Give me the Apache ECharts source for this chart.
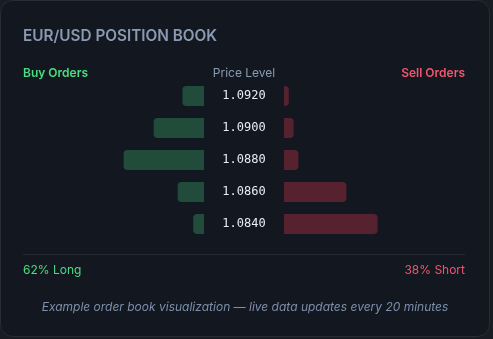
<!DOCTYPE html>
<html>
<head>
<meta charset="utf-8">
<script src="https://cdn.jsdelivr.net/npm/echarts@6/dist/echarts.min.js"></script>
<style>
  html, body { margin: 0; padding: 0; background: #191c23; }
  #chart { width: 493px; height: 339px; }
</style>
</head>
<body>
<div id="chart"></div>
<script>
// price levels, top to bottom
const priceLevels = ['1.0920', '1.0900', '1.0880', '1.0860', '1.0840']
// buy / sell order share at each level (%)
const buyOrders = [18, 42, 67, 22, 9]
const sellOrders = [4, 8, 12, 52, 78]
const longPct = 62
const shortPct = 38

const FONT = 'Inter, "Noto Sans", sans-serif'
const GREEN = '#4ade80'
const RED = '#f0566f'

const myChart = echarts.init(document.getElementById('chart'))

const option = {
    backgroundColor: 'transparent',
    animation: false,
    graphic: [
        // card
        {
            type: 'rect',
            shape: { x: 0.5, y: 0.5, width: 489, height: 336, r: 12 },
            style: { fill: '#131720', stroke: '#272c37', lineWidth: 1 },
            z: -10,
        },
        {
            type: 'text',
            left: 23, top: 29,
            style: { text: 'EUR/USD POSITION BOOK', fill: '#8a9ab2', font: '600 15.3px ' + FONT },
        },
        {
            type: 'text',
            left: 23, top: 67,
            style: { text: 'Buy Orders', fill: GREEN, font: '600 12px ' + FONT },
        },
        {
            type: 'text',
            x: 244, y: 67,
            style: { text: 'Price Level', fill: '#8a9ab2', font: '12px ' + FONT, align: 'center' },
        },
        {
            type: 'text',
            x: 465, y: 67,
            style: { text: 'Sell Orders', fill: RED, font: '600 12px ' + FONT, align: 'right' },
        },
        // separator
        {
            type: 'line',
            shape: { x1: 23, y1: 254.5, x2: 465, y2: 254.5 },
            style: { stroke: '#252a35', lineWidth: 1 },
        },
        {
            type: 'text',
            left: 23, top: 264,
            style: { text: longPct + '% Long', fill: GREEN, font: '12px ' + FONT },
        },
        {
            type: 'text',
            x: 465, y: 264,
            style: { text: shortPct + '% Short', fill: RED, font: '12px ' + FONT, align: 'right' },
        },
        {
            type: 'text',
            x: 245, y: 301,
            style: {
                text: 'Example order book visualization — live data updates every 20 minutes',
                fill: '#7d8fab', font: 'italic 12px ' + FONT, align: 'center',
            },
        },
    ],
    grid: [
        { left: 84, top: 80, width: 120, height: 160 },
        { left: 284, top: 80, width: 120, height: 160 },
    ],
    xAxis: [
        { type: 'value', gridIndex: 0, min: 0, max: 100, inverse: true, show: false },
        { type: 'value', gridIndex: 1, min: 0, max: 100, show: false },
    ],
    yAxis: [
        {
            type: 'category', gridIndex: 0, data: priceLevels, inverse: true,
            axisLine: { show: false }, axisTick: { show: false }, axisLabel: { show: false },
        },
        {
            type: 'category', gridIndex: 1, data: priceLevels, inverse: true,
            position: 'left',
            axisLine: { show: false }, axisTick: { show: false },
            axisLabel: {
                margin: 40, align: 'center',
                color: '#e6edf5', fontSize: 12,
                fontFamily: '"DejaVu Sans Mono", "Liberation Mono", monospace',
            },
        },
    ],
    series: [
        {
            type: 'bar', xAxisIndex: 0, yAxisIndex: 0, data: buyOrders,
            barWidth: 20,
            itemStyle: { color: '#214b3b', borderRadius: [4, 0, 0, 4] },
        },
        {
            type: 'bar', xAxisIndex: 1, yAxisIndex: 1, data: sellOrders,
            barWidth: 20,
            itemStyle: { color: '#57222f', borderRadius: [0, 4, 4, 0] },
        },
    ],
}

myChart.setOption(option)
</script>
</body>
</html>
